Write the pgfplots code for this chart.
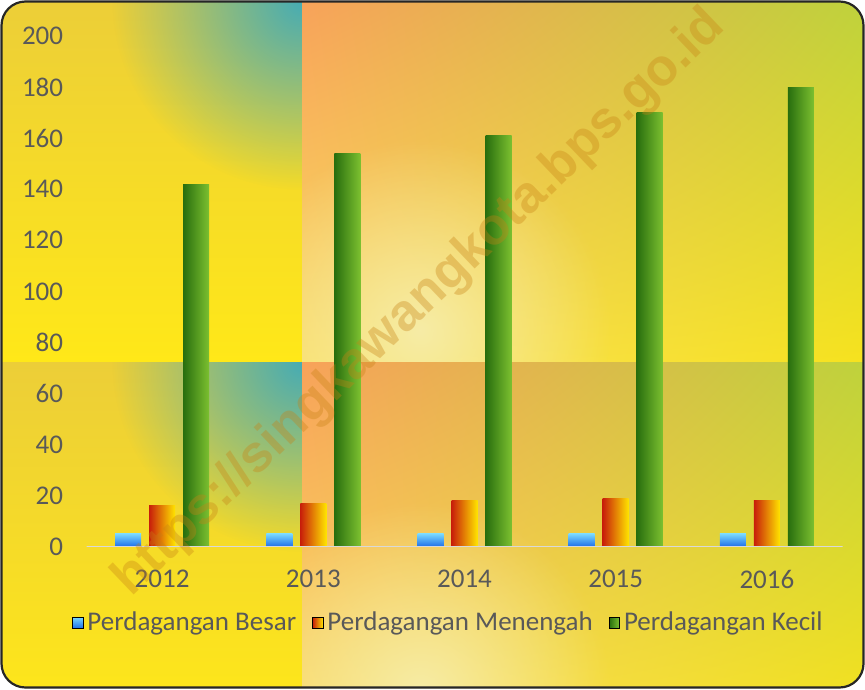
\documentclass[border=0pt]{standalone}
\usepackage{pgfplots}
\pgfplotsset{compat=1.18}
\usetikzlibrary{shadings,fadings}
\usepackage{fontspec}
\setmainfont{Carlito}
\newfontfamily\wmfont{Liberation Sans}
\definecolor{lab}{RGB}{89,89,89}
\definecolor{yel1}{RGB}{255,232,24}
\definecolor{yel2}{RGB}{246,226,30}
\definecolor{yelT}{RGB}{236,206,56}
\definecolor{teal1}{RGB}{70,172,180}
\definecolor{orgB}{RGB}{248,162,90}
\definecolor{grnB}{RGB}{190,210,60}
\definecolor{yel3}{RGB}{250,222,96}
\definecolor{pale}{RGB}{246,238,175}
\definecolor{blueT}{RGB}{120,215,255}
\definecolor{blueB}{RGB}{30,110,232}
\definecolor{redL}{RGB}{200,30,10}
\definecolor{redM}{RGB}{240,112,16}
\definecolor{redR}{RGB}{255,228,0}
\definecolor{grnL}{RGB}{40,110,14}
\definecolor{grnM}{RGB}{76,150,24}
\definecolor{grnR}{RGB}{124,192,48}
\definecolor{wm}{RGB}{200,130,20}
\tikzfading[name=softcirc, inner color=transparent!0, outer color=transparent!100]
\begin{document}
\begin{tikzpicture}
\begin{scope}[x=0.5pt,y=-0.5pt]
\useasboundingbox (0,0) rectangle (865,689);
\begin{scope}
\clip[rounded corners=12pt] (1,1) rectangle (864,688);
\foreach \yo in {0,362}{
  \begin{scope}
  \clip (0,\yo) rectangle (302,\yo+362);
  \shade[top color=yelT, bottom color=yel1] (0,\yo) rectangle (302,\yo+362);
  \fill[teal1, path fading=softcirc] (302,\yo) circle (190);
  \end{scope}
  \begin{scope}
  \clip (302,\yo) rectangle (866,\yo+362);
  \shade[upper left=orgB, upper right=grnB, lower left=yel3, lower right=yel2] (302,\yo) rectangle (866,\yo+362);
  \fill[pale, opacity=0.9, path fading=softcirc] (420,\yo+330) circle (190);
  \end{scope}
}
\end{scope}
\end{scope}
\begin{axis}[
  at={(43.25pt,-273.35pt)}, anchor=south west,
  scale only axis, width=378pt, height=255.35pt,
  xmin=-0.5, xmax=4.5, ymin=0, ymax=200,
  axis line style={draw=none}, tick style={draw=none},
  ytick={0,20,...,200},
  xtick={0,1,2,3,4}, xticklabels={2012,2013,2014,2015,2016},
  tick label style={font=\fontsize{13.5}{15}\selectfont, text=lab},
  yticklabel style={inner sep=0pt, xshift=-11.5pt},
  xticklabel style={inner sep=0pt, yshift=-11.5pt},
  /pgf/number format/assume math mode=true,
  legend style={at={(0.48,-0.149)}, anchor=center, draw=none, fill=none,
    legend columns=3, font=\fontsize{13.5}{15}\selectfont, text=lab,
    /tikz/every even column/.append style={column sep=6pt}},
  legend image code/.code={\path[#1] (0pt,-2.8pt) rectangle (5.2pt,2.8pt);},
  bb/.style={ybar, bar width=13pt, bar shift=-17pt, draw=none, top color=blueT, bottom color=blueB, forget plot},
  bm/.style={ybar, bar width=13pt, bar shift=0pt, draw=none, left color=redL, middle color=redM, right color=redR, forget plot},
  bk/.style={ybar, bar width=13pt, bar shift=17pt, draw=none, left color=grnL, middle color=grnM, right color=grnR, forget plot},
]
\addlegendimage{top color=blueT, bottom color=blueB}
\addlegendimage{left color=redL, middle color=redM, right color=redR}
\addlegendimage{left color=grnL, middle color=grnM, right color=grnR}
% Perdagangan Besar
\addplot[bb] coordinates {(0,5)};
\addplot[bb] coordinates {(1,5)};
\addplot[bb] coordinates {(2,5)};
\addplot[bb] coordinates {(3,5)};
\addplot[bb] coordinates {(4,5)};
% Perdagangan Menengah
\addplot[bm] coordinates {(0,16)};
\addplot[bm] coordinates {(1,17)};
\addplot[bm] coordinates {(2,18)};
\addplot[bm] coordinates {(3,19)};
\addplot[bm] coordinates {(4,18)};
% Perdagangan Kecil
\addplot[bk] coordinates {(0,142)};
\addplot[bk] coordinates {(1,154)};
\addplot[bk] coordinates {(2,161)};
\addplot[bk] coordinates {(3,170)};
\addplot[bk] coordinates {(4,180)};
\legend{Perdagangan Besar, Perdagangan Menengah, Perdagangan Kecil}
\draw[color=black!15, line width=1pt] (rel axis cs:-0.015,0) -- (rel axis cs:1.01,0);
\end{axis}
\begin{scope}[x=0.5pt,y=-0.5pt]
\node[overlay, rotate=43.7, text=wm, opacity=0.35, font=\wmfont\bfseries\fontsize{26}{30}\selectfont] at (420,303) {https://singkawangkota.bps.go.id};
\draw[overlay, line width=1.1pt, rounded corners=12pt, color=black!85] (1.5,1.5) rectangle (863.5,687.5);
\end{scope}
\end{tikzpicture}
\end{document}
